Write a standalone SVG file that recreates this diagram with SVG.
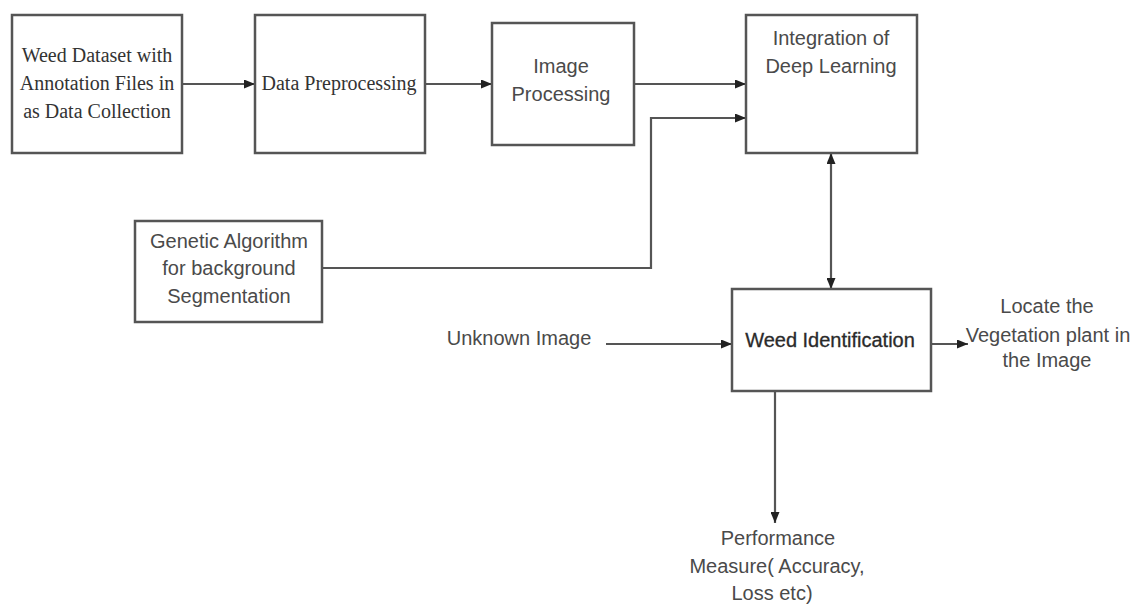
<svg xmlns="http://www.w3.org/2000/svg" width="1138" height="605" viewBox="0 0 1138 605">
  <defs>
    <marker id="arrow" markerWidth="11" markerHeight="9" refX="11" refY="4.5" orient="auto-start-reverse" markerUnits="userSpaceOnUse">
      <path d="M0,0 L11,4.5 L0,9 Z" fill="#222"/>
    </marker>
    <style>
      .box { fill: #fff; stroke: #555; stroke-width: 2.5; }
      .edge { fill: none; stroke: #555; stroke-width: 2.2; }
      .serif { font-family: "Liberation Serif", "Times New Roman", serif; font-size: 20px; fill: #333; text-anchor: middle; }
      .sans { font-family: "Liberation Sans", Arial, sans-serif; font-size: 20px; fill: #4a4a4a; text-anchor: middle; }
      .dark { fill: #2a2a2a; stroke: #2a2a2a; stroke-width: 0.3; }
    </style>
  </defs>
  <rect width="1138" height="605" fill="#fff"/>

  <g id="connectors">
    <line class="edge" x1="182" y1="84" x2="255" y2="84" marker-end="url(#arrow)"/>
    <line class="edge" x1="425" y1="84" x2="492" y2="84" marker-end="url(#arrow)"/>
    <line class="edge" x1="634" y1="84" x2="746" y2="84" marker-end="url(#arrow)"/>
    <polyline class="edge" points="322,268 651,268 651,118 746,118" marker-end="url(#arrow)"/>
    <line class="edge" x1="831" y1="153" x2="831" y2="289" marker-start="url(#arrow)" marker-end="url(#arrow)"/>
    <line class="edge" x1="606" y1="344" x2="732" y2="344" marker-end="url(#arrow)"/>
    <line class="edge" x1="931" y1="344" x2="968" y2="344" marker-end="url(#arrow)"/>
    <line class="edge" x1="775" y1="391" x2="775" y2="523" marker-end="url(#arrow)"/>
  </g>

  <g id="dataset">
    <rect class="box" x="12" y="15" width="170" height="138"/>
    <text class="serif" x="97" y="62">Weed Dataset with</text>
    <text class="serif" x="97" y="90">Annotation Files in</text>
    <text class="serif" x="97" y="118">as Data Collection</text>
  </g>

  <g id="preprocessing">
    <rect class="box" x="255" y="15" width="170" height="138"/>
    <text class="serif" x="339" y="90">Data Preprocessing</text>
  </g>

  <g id="image-processing">
    <rect class="box" x="492" y="23" width="142" height="122"/>
    <text class="sans" x="561" y="73">Image</text>
    <text class="sans" x="561" y="101">Processing</text>
  </g>

  <g id="deep-learning">
    <rect class="box" x="746" y="15" width="171" height="138"/>
    <text class="sans" x="831" y="45">Integration of</text>
    <text class="sans" x="831" y="73">Deep Learning</text>
  </g>

  <g id="genetic">
    <rect class="box" x="135" y="221" width="187" height="101"/>
    <text class="sans" x="229" y="248">Genetic Algorithm</text>
    <text class="sans" x="229" y="275">for background</text>
    <text class="sans" x="229" y="303">Segmentation</text>
  </g>

  <g id="unknown-image">
    <text class="sans" x="519" y="345">Unknown Image</text>
  </g>

  <g id="weed-identification">
    <rect class="box" x="732" y="289" width="199" height="102"/>
    <text class="sans dark" x="830" y="347">Weed Identification</text>
  </g>

  <g id="locate">
    <text class="sans" x="1047" y="313">Locate the</text>
    <text class="sans" x="1048" y="342">Vegetation plant in</text>
    <text class="sans" x="1047" y="367">the Image</text>
  </g>

  <g id="performance">
    <text class="sans" x="778" y="545">Performance</text>
    <text class="sans" x="777" y="573">Measure( Accuracy,</text>
    <text class="sans" x="772" y="600">Loss etc)</text>
  </g>
</svg>
